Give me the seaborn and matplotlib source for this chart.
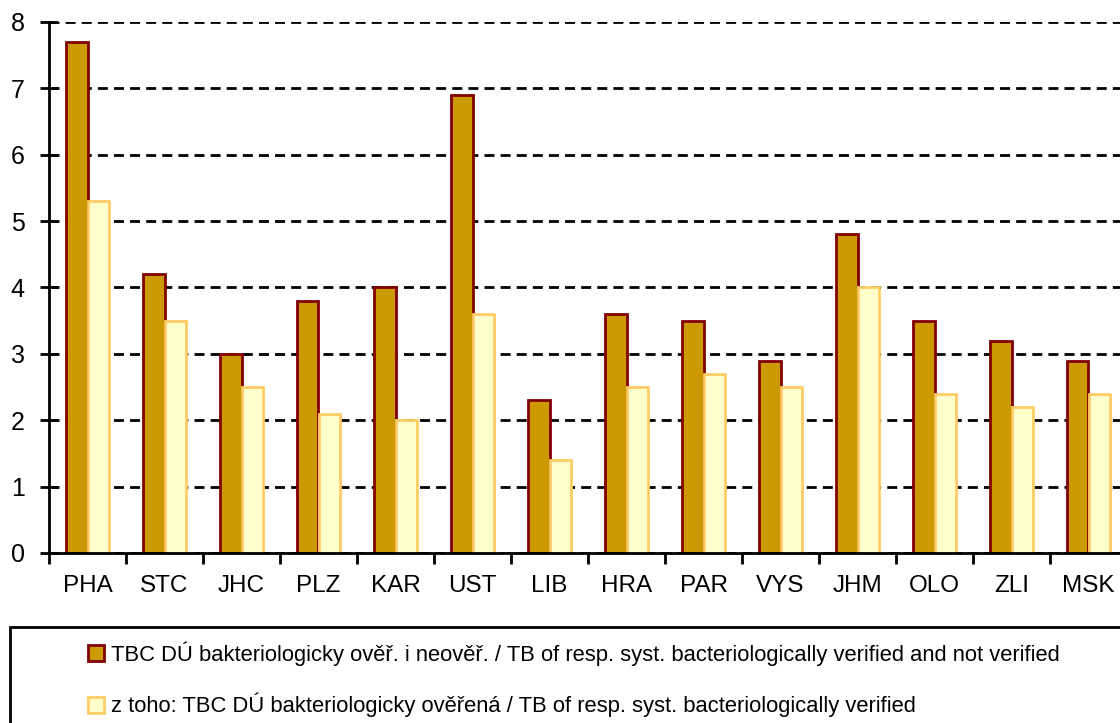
import pandas as pd
import matplotlib.pyplot as plt
import seaborn as sns
from matplotlib.patches import Rectangle, Patch
from matplotlib.ticker import FixedLocator

# Data
regions = ["PHA", "STC", "JHC", "PLZ", "KAR", "UST", "LIB",
           "HRA", "PAR", "VYS", "JHM", "OLO", "ZLI", "MSK"]
all_tb = [7.7, 4.2, 3.0, 3.8, 4.0, 6.9, 2.3, 3.6, 3.5, 2.9, 4.8, 3.5, 3.2, 2.9]
verified_tb = [5.3, 3.5, 2.5, 2.1, 2.0, 3.6, 1.4, 2.5, 2.7, 2.5, 4.0, 2.4, 2.2, 2.4]
series_names = [
    "TBC DÚ bakteriologicky ověř. i neověř. / TB of resp. syst. bacteriologically verified and not verified",
    "z toho: TBC DÚ bakteriologicky ověřená / TB of resp. syst. bacteriologically verified",
]

fills = ["#CC9900", "#FFFFCC"]
edges = ["#800000", "#FFCC66"]

sns.set_style("white")
plt.rcParams["font.family"] = ["Liberation Sans", "DejaVu Sans"]
plt.rcParams["text.color"] = "black"
plt.rcParams["xtick.color"] = "black"
plt.rcParams["ytick.color"] = "black"

df = pd.DataFrame({
    "region": regions * 2,
    "value": all_tb + verified_tb,
    "series": [series_names[0]] * len(regions) + [series_names[1]] * len(regions),
})

fig = plt.figure(figsize=(11.2, 7.23), dpi=100)
ax = fig.add_axes([49 / 1120, 1 - 553 / 723, 1078 / 1120, 531 / 723])

sns.barplot(data=df, x="region", y="value", hue="series", hue_order=series_names,
            palette=fills, saturation=1, width=0.57, ax=ax, legend=False, linewidth=2)
for cont, ec in zip(ax.containers, edges):
    for bar in cont:
        bar.set_edgecolor(ec)

ax.set_xlim(-0.5, len(regions) - 0.5)
ax.set_ylim(0, 8)
ax.set_xlabel("")
ax.set_ylabel("")

# dashed grid
ax.set_yticks(range(0, 9))
ax.yaxis.grid(True, color="black", linestyle=(0, (3.6, 2.2)), linewidth=2)
ax.set_axisbelow(True)

for s in ["top", "right"]:
    ax.spines[s].set_visible(False)
for s in ["left", "bottom"]:
    ax.spines[s].set_color("black")
    ax.spines[s].set_linewidth(2)

ax.tick_params(axis="y", direction="inout", length=13, width=2, labelsize=18, pad=11, left=True)
ax.xaxis.set_minor_locator(FixedLocator([i - 0.5 for i in range(len(regions) + 1)]))
ax.tick_params(axis="x", which="major", length=0, labelsize=17.5, pad=16)
ax.tick_params(axis="x", which="minor", direction="out", length=8, width=2, bottom=True)

# legend box
fig.patches.append(Rectangle((10 / 1120, -0.05), 1.2, 1 - 627 / 723 + 0.05,
                             transform=fig.transFigure, fill=False,
                             edgecolor="black", linewidth=2))
handles = [Patch(facecolor=f, edgecolor=e, linewidth=2) for f, e in zip(fills, edges)]
fig.legend(handles, series_names, loc="upper left", bbox_to_anchor=(88 / 1120, 1 - 641 / 723),
           frameon=False, fontsize=15.8, borderpad=0, borderaxespad=0,
           handlelength=0.75, handleheight=0.75, handletextpad=0.3, labelspacing=1.25)

plt.savefig("out.png", dpi=100)
